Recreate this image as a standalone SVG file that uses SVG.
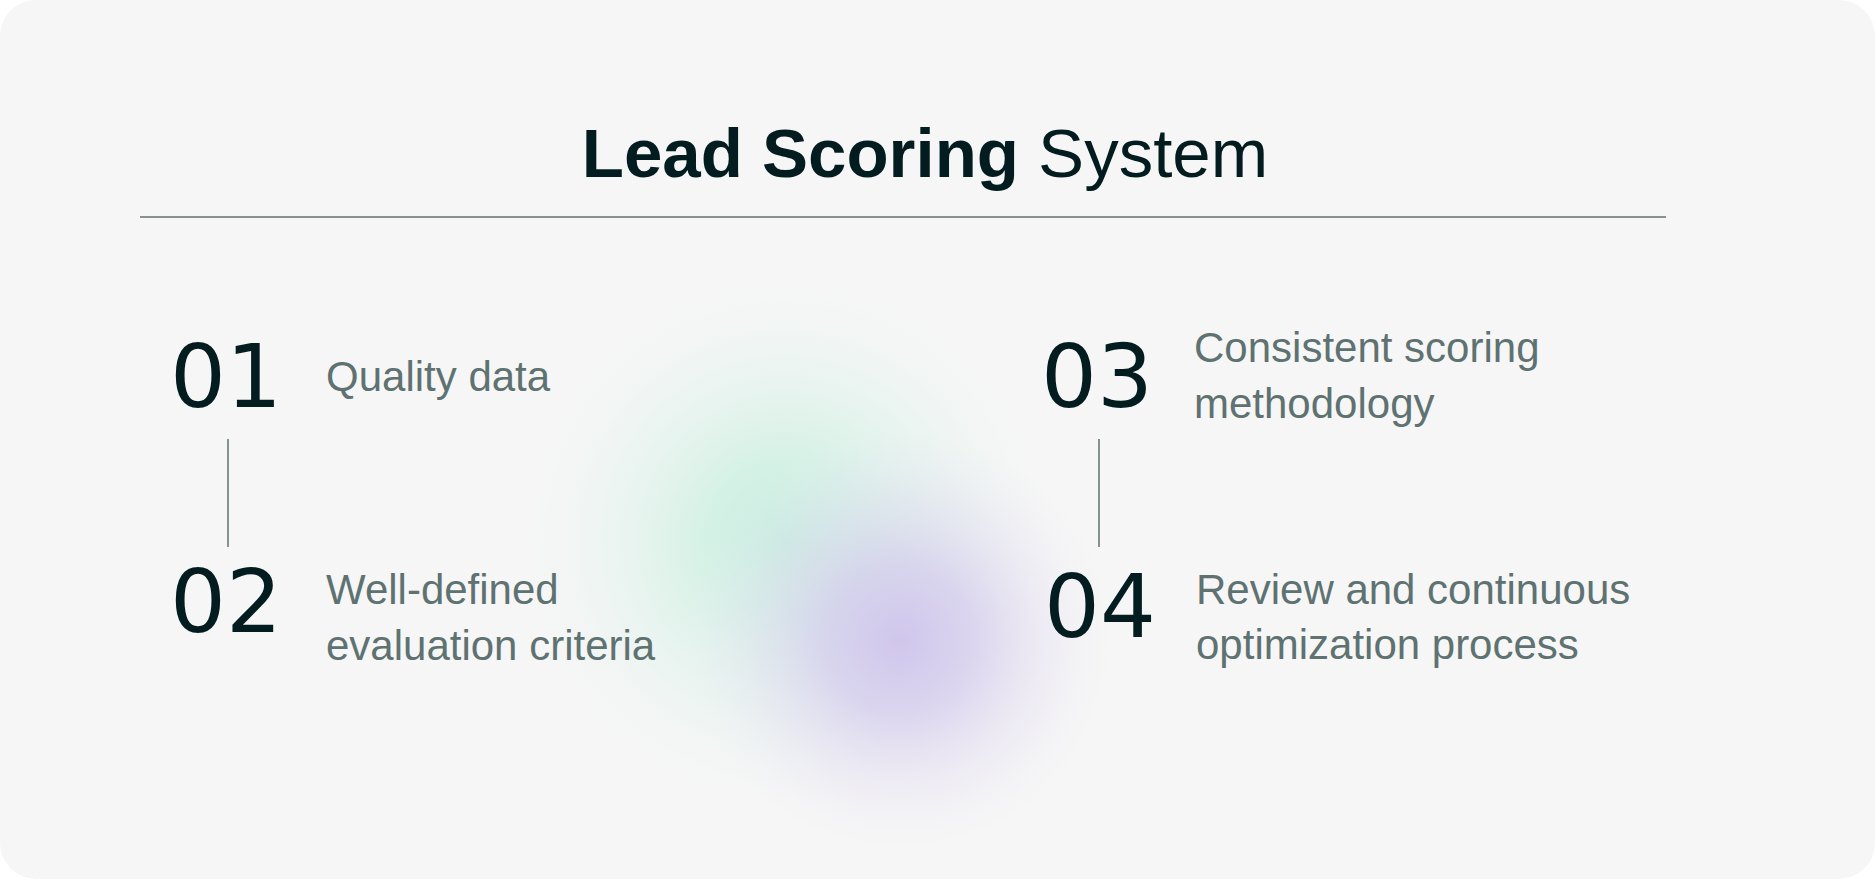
<svg xmlns="http://www.w3.org/2000/svg" width="1875" height="879" viewBox="0 0 1875 879">
<defs>
<radialGradient id="gGreen" cx="785" cy="540" r="270" gradientUnits="userSpaceOnUse">
<stop offset="0" stop-color="#c4eedd" stop-opacity="1"/>
<stop offset="0.3" stop-color="#cdf0e2" stop-opacity="0.8"/>
<stop offset="0.65" stop-color="#dcf2e9" stop-opacity="0.4"/>
<stop offset="1" stop-color="#eef5f2" stop-opacity="0"/>
</radialGradient>
<radialGradient id="gPurple" cx="900" cy="640" r="215" gradientUnits="userSpaceOnUse">
<stop offset="0" stop-color="#d0c6ec" stop-opacity="1"/>
<stop offset="0.35" stop-color="#d4cbed" stop-opacity="0.75"/>
<stop offset="0.7" stop-color="#e2dcf1" stop-opacity="0.35"/>
<stop offset="1" stop-color="#efedf5" stop-opacity="0"/>
</radialGradient>
<style>
.num{font-family:"DejaVu Sans",sans-serif;font-size:88px;fill:#031c1f}
.desc{font-family:"Liberation Sans",Arial,sans-serif;font-size:42px;fill:#5e7271}
.title{font-family:"Liberation Sans",Arial,sans-serif;font-size:69px;fill:#031c1f}
.line{stroke:#5e7271;stroke-width:1.5;fill:none}
</style>
</defs>
<rect x="0" y="0" width="1875" height="879" fill="#ffffff"/>
<rect x="0" y="0" width="1875" height="879" rx="36" ry="36" fill="#f6f6f6"/>
<g id="blob">
<ellipse cx="785" cy="540" rx="270" ry="260" fill="url(#gGreen)"/>
<ellipse cx="900" cy="640" rx="215" ry="205" fill="url(#gPurple)"/>
</g>
<g id="title">
<text class="title" x="925" y="177" text-anchor="middle"><tspan font-weight="bold">Lead Scoring</tspan> System</text>
<line class="line" x1="140" y1="217" x2="1666" y2="217"/>
</g>
<g id="connectors">
<line class="line" x1="228" y1="439" x2="228" y2="547"/>
<line class="line" x1="1099" y1="439" x2="1099" y2="547"/>
</g>
<g id="item01">
<text class="num" x="170" y="407">01</text>
<text class="desc" x="326" y="391">Quality data</text>
</g>
<g id="item02">
<text class="num" x="170" y="632">02</text>
<text class="desc" x="326" y="604">Well-defined</text>
<text class="desc" x="326" y="660">evaluation criteria</text>
</g>
<g id="item03">
<text class="num" x="1041" y="407">03</text>
<text class="desc" x="1194" y="362">Consistent scoring</text>
<text class="desc" x="1194" y="418">methodology</text>
</g>
<g id="item04">
<text class="num" x="1044" y="637">04</text>
<text class="desc" x="1196" y="604">Review and continuous</text>
<text class="desc" x="1196" y="659">optimization process</text>
</g>
</svg>
